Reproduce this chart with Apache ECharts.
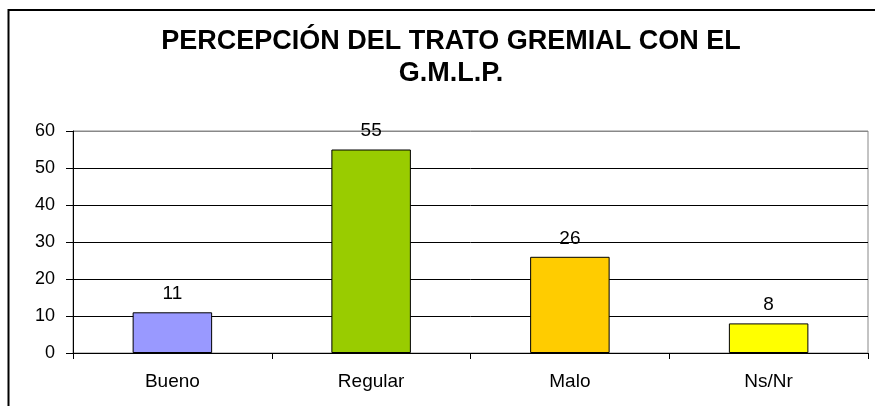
<!DOCTYPE html>
<html>
<head>
<meta charset="utf-8">
<script src="https://cdn.jsdelivr.net/npm/echarts@6/dist/echarts.min.js"></script>
<style>
  html, body { margin: 0; padding: 0; background: #fff; }
  #chart { width: 875px; height: 406px; }
</style>
</head>
<body>
<div id="chart"></div>
<script>
// datos
const categorias = ['Bueno', 'Regular', 'Malo', 'Ns/Nr']
const valores = [11, 55, 26, 8]
const colores = ['#9999FF', '#99CC00', '#FFCC00', '#FFFF00']
const titulo = 'PERCEPCIÓN DEL TRATO GREMIAL CON EL\nG.M.L.P.'

const fuente = '"Liberation Sans", Arial, sans-serif'

let myChart = echarts.init(document.getElementById('chart'))

const options = {
  animation: false,
  title: {
    text: titulo,
    left: 446,
    top: 21,
    textAlign: 'center',
    textStyle: {
      fontFamily: fuente,
      fontSize: 27,
      fontWeight: 'bold',
      color: '#000',
      lineHeight: 32
    }
  },
  // marco exterior del grafico
  graphic: [
    {
      type: 'rect',
      shape: { x: 8.5, y: 10, width: 1000, height: 1000 },
      style: { fill: 'none', stroke: '#000', lineWidth: 2 },
      silent: true
    }
  ],
  grid: {
    left: 73,
    right: 7,
    top: 131,
    bottom: 53,
    show: true,
    borderColor: '#888',
    borderWidth: 1
  },
  xAxis: {
    type: 'category',
    data: categorias,
    axisLine: { lineStyle: { color: '#000', width: 1 } },
    axisTick: { show: true, length: 6, lineStyle: { color: '#000' } },
    axisLabel: {
      color: '#000',
      fontFamily: fuente,
      fontSize: 19,
      margin: 19
    }
  },
  yAxis: {
    type: 'value',
    min: 0,
    max: 60,
    interval: 10,
    axisLine: { show: true, lineStyle: { color: '#000', width: 1 } },
    axisTick: { show: true, length: 7, lineStyle: { color: '#000' } },
    axisLabel: {
      color: '#000',
      fontFamily: fuente,
      fontSize: 18,
      margin: 18
    },
    splitLine: {
      show: true,
      lineStyle: {
        // la linea de 60 coincide con el borde gris
        color: ['#000', '#000', '#000', '#000', '#000', '#000', '#888'],
        width: 1
      }
    }
  },
  series: [
    {
      type: 'bar',
      data: valores.map((v, i) => ({
        value: v,
        itemStyle: { color: colores[i] }
      })),
      barCategoryGap: '60%',
      itemStyle: { borderColor: '#000', borderWidth: 1 },
      label: {
        show: true,
        position: 'top',
        distance: 9,
        color: '#000',
        fontFamily: fuente,
        fontSize: 19
      }
    }
  ]
}

myChart.setOption(options)
</script>
</body>
</html>
